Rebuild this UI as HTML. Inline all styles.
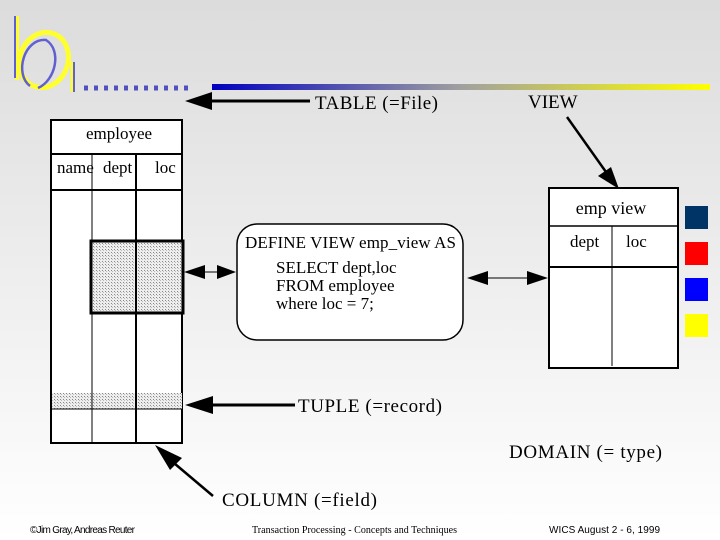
<!DOCTYPE html>
<html><head><style>
body{margin:0;width:720px;height:540px;overflow:hidden;background:linear-gradient(#dcdcdc,#ffffff);}
svg{position:absolute;left:0;top:0}
text{font-family:"Liberation Serif",serif;fill:#000}
</style></head><body>
<svg width="720" height="540" viewBox="0 0 720 540">
<defs>
<linearGradient id="g" x1="0" x2="1"><stop offset="0" stop-color="#0000c0"/><stop offset="0.5" stop-color="#a0a0a0"/><stop offset="1" stop-color="#ffff00"/></linearGradient>
<pattern id="dot" width="3" height="3" patternUnits="userSpaceOnUse"><rect width="3" height="3" fill="#eee"/><rect width="1" height="1" fill="#888"/><rect x="1" y="1" width="1" height="1" fill="#bbb"/></pattern>
</defs>
<!-- logo -->
<path d="M17 16 V80" stroke="#ffff30" stroke-width="4"/>
<ellipse cx="44" cy="60" rx="24" ry="28" fill="none" stroke="#ffff30" stroke-width="5" transform="rotate(20 44 60)"/>
<path d="M15 16 V78" stroke="#6060d0" stroke-width="2"/>
<path d="M30 86 C14 74 24 38 46 40 C62 50 56 80 38 88" fill="none" stroke="#6060d0" stroke-width="2.5"/>
<path d="M72 62 V92" stroke="#ffff30" stroke-width="3"/>
<path d="M74 62 V92" stroke="#6060d0" stroke-width="2"/>
<path d="M84 88 H190" stroke="#5050c0" stroke-width="5" stroke-dasharray="4 6"/>
<rect x="212" y="84" width="498" height="6" fill="url(#g)"/>
<!-- employee table -->
<rect x="51" y="120" width="131" height="323" fill="#fff" stroke="#000" stroke-width="2"/>
<rect x="52" y="393" width="130" height="16" fill="url(#dot)"/>
<line x1="51" y1="154" x2="182" y2="154" stroke="#000" stroke-width="2"/>
<line x1="51" y1="190" x2="182" y2="190" stroke="#000" stroke-width="2"/>
<line x1="51" y1="409" x2="182" y2="409" stroke="#000" stroke-width="1"/>
<line x1="92" y1="154" x2="92" y2="443" stroke="#000" stroke-width="1"/>
<line x1="136" y1="154" x2="136" y2="443" stroke="#000" stroke-width="2"/>
<rect x="91" y="241" width="92" height="72" fill="url(#dot)" stroke="#000" stroke-width="3"/>
<line x1="136" y1="241" x2="136" y2="313" stroke="#000" stroke-width="2"/>
<text x="119" y="139" font-size="17" text-anchor="middle">employee</text>
<text x="57" y="173" font-size="17">name</text>
<text x="103" y="173" font-size="17">dept</text>
<text x="155" y="173" font-size="17">loc</text>
<!-- TABLE arrow -->
<line x1="205" y1="101" x2="310" y2="101" stroke="#000" stroke-width="3"/>
<polygon points="185,101 212,92 212,110" fill="#000"/>
<text x="315" y="109" font-size="19" textLength="123">TABLE (=File)</text>
<!-- VIEW -->
<text x="528" y="108" font-size="19">VIEW</text>
<line x1="567" y1="117" x2="606" y2="172" stroke="#000" stroke-width="2.5"/>
<polygon points="619,189 598,176 611,167" fill="#000"/>
<!-- define box -->
<rect x="237" y="224" width="226" height="116" rx="20" fill="#fff" stroke="#000" stroke-width="1.5"/>
<text x="245" y="248" font-size="17" textLength="211">DEFINE VIEW emp_view AS</text>
<text x="276" y="273" font-size="17">SELECT dept,loc</text>
<text x="276" y="291" font-size="17">FROM employee</text>
<text x="276" y="309" font-size="17">where loc = 7;</text>
<!-- double arrow left -->
<line x1="190" y1="272" x2="230" y2="272" stroke="#000" stroke-width="1"/>
<polygon points="184,272 205,265 205,279" fill="#000"/>
<polygon points="236,272 217,265 217,279" fill="#000"/>
<!-- double arrow right -->
<line x1="470" y1="278" x2="545" y2="278" stroke="#000" stroke-width="1"/>
<polygon points="467,278 488,271 488,285" fill="#000"/>
<polygon points="548,278 527,271 527,285" fill="#000"/>
<!-- emp view -->
<rect x="549" y="188" width="129" height="180" fill="#fff" stroke="#000" stroke-width="2"/>
<line x1="549" y1="226" x2="678" y2="226" stroke="#000" stroke-width="1.5"/>
<line x1="549" y1="267" x2="678" y2="267" stroke="#000" stroke-width="2"/>
<line x1="612" y1="226" x2="612" y2="366" stroke="#000" stroke-width="1"/>
<text x="611" y="214" font-size="18" text-anchor="middle">emp view</text>
<text x="570" y="247" font-size="17">dept</text>
<text x="626" y="247" font-size="17">loc</text>
<!-- squares -->
<rect x="685" y="206" width="23" height="23" fill="#003366"/>
<rect x="685" y="242" width="23" height="23" fill="#ff0000"/>
<rect x="685" y="278" width="23" height="23" fill="#0000ff"/>
<rect x="685" y="314" width="23" height="23" fill="#ffff00"/>
<!-- TUPLE -->
<line x1="205" y1="405" x2="295" y2="405" stroke="#000" stroke-width="3"/>
<polygon points="185,405 213,396 213,414" fill="#000"/>
<text x="298" y="412" font-size="19" textLength="144">TUPLE (=record)</text>
<!-- COLUMN -->
<line x1="213" y1="496" x2="168" y2="458" stroke="#000" stroke-width="2.5"/>
<polygon points="155,445 182,458 170,470" fill="#000"/>
<text x="222" y="506" font-size="19" textLength="155">COLUMN (=field)</text>
<text x="509" y="458" font-size="19" textLength="153">DOMAIN (= type)</text>
<!-- footer -->
<text x="30" y="533" font-size="10" textLength="105" style="font-family:'Liberation Sans',sans-serif">©Jim Gray, Andreas Reuter</text>
<text x="252" y="533" font-size="10" textLength="205">Transaction Processing - Concepts and Techniques</text>
<text x="549" y="533" font-size="10" textLength="111" style="font-family:'Liberation Sans',sans-serif">WICS August 2 - 6, 1999</text>
</svg>
</body></html>
